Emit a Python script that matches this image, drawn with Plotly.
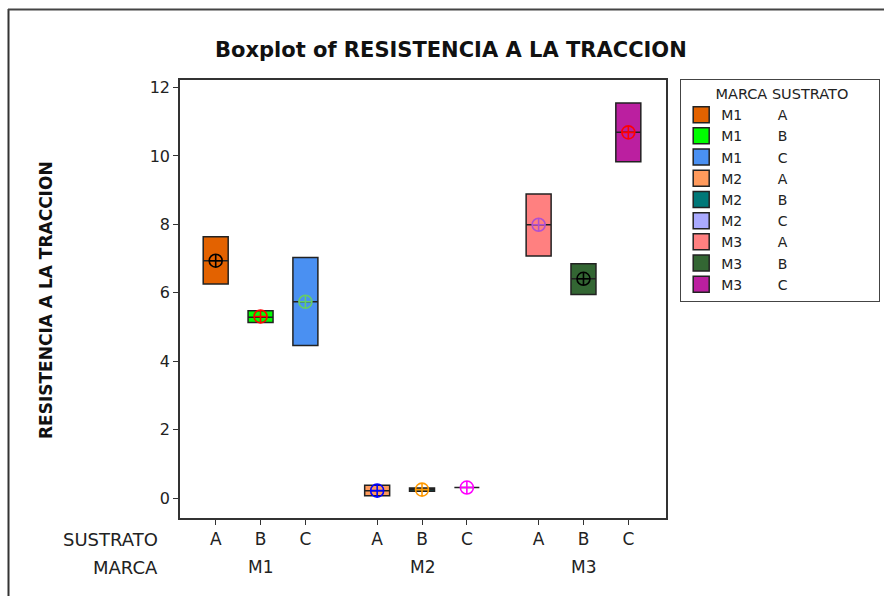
import plotly.graph_objects as go

# ---- data ----
marca = ["M1", "M1", "M1", "M2", "M2", "M2", "M3", "M3", "M3"]
sustrato = ["A", "B", "C", "A", "B", "C", "A", "B", "C"]
positions = [1, 2, 3, 4.6, 5.6, 6.6, 8.2, 9.2, 10.2]
q1 = [6.26, 5.13, 4.46, 0.07, 0.20, 0.31, 7.08, 5.95, 9.83]
median = [6.94, 5.29, 5.74, 0.22, 0.25, 0.31, 7.99, 6.41, 10.69]
q3 = [7.64, 5.48, 7.03, 0.38, 0.30, 0.31, 8.89, 6.85, 11.55]
means = [6.94, 5.31, 5.74, 0.22, 0.25, 0.31, 7.99, 6.41, 10.69]
y_ticks = [0, 2, 4, 6, 8, 10, 12]

box_colors = ["#E36200", "#00FF00", "#4A90F2", "#FF9A5C", "#007878",
              "#AAAAFF", "#FF8080", "#336633", "#BB1FA0"]
mean_colors = ["#000000", "#FF0000", "#66CC66", "#0000FF", "#FF9900",
               "#FF00FF", "#B050D0", "#000000", "#FF0000"]

FONT = "DejaVu Sans"
fig = go.Figure()

for i in range(len(marca)):
    fig.add_trace(go.Box(
        x=[positions[i]], q1=[q1[i]], median=[median[i]], q3=[q3[i]],
        lowerfence=[q1[i]], upperfence=[q3[i]],
        width=0.557, fillcolor=box_colors[i],
        line=dict(color="#222222", width=1.5),
        boxpoints=False, showlegend=False, hoverinfo="y",
        legendgroup=f"g{i}",
    ))

fig.add_trace(go.Scatter(
    x=positions, y=means, mode="markers", showlegend=False,
    marker=dict(symbol="circle-cross-open", size=13,
                color=mean_colors, line=dict(width=1.6, color=mean_colors)),
))

# legend entries
nb = "\u00a0"
for i in range(len(marca)):
    fig.add_trace(go.Scatter(
        x=[None], y=[None], mode="markers",
        name=f"{marca[i]}{nb*8}{sustrato[i]}",
        legendgroup=f"g{i}",
        marker=dict(symbol="square", size=16, color=box_colors[i],
                    line=dict(color="#222222", width=1.5)),
    ))

# geometry helpers (pixel -> paper)
W, H = 884, 596
L, R, T, B = 180, 218, 80, 78
pw, ph = W - L - R, H - T - B

def px_x(p):
    return (p - L) / pw

def px_y(p):
    return (H - B - p) / ph

groups = ["M1", "M2", "M3"]
for g in groups:
    xs = [positions[k] for k in range(len(marca)) if marca[k] == g]
    fig.add_annotation(x=sum(xs) / len(xs), xref="x", y=px_y(567), yref="paper",
                       text=g, showarrow=False, xanchor="center", yanchor="middle",
                       font=dict(family=FONT, size=17, color="#222222"))

fig.add_annotation(x=px_x(160), xref="paper", y=px_y(539), yref="paper",
                   text="SUSTRATO", showarrow=False, xanchor="right", yanchor="middle",
                   font=dict(family=FONT, size=18, color="#222222"))
fig.add_annotation(x=px_x(160), xref="paper", y=px_y(567), yref="paper",
                   text="MARCA", showarrow=False, xanchor="right", yanchor="middle",
                   font=dict(family=FONT, size=18, color="#222222"))

# title
fig.add_annotation(x=px_x(451), xref="paper", y=px_y(50), yref="paper",
                   text="<b>Boxplot of RESISTENCIA A LA TRACCION</b>", showarrow=False,
                   xanchor="center", yanchor="middle",
                   font=dict(family=FONT, size=21, color="#111111"))

# y-axis title
fig.add_annotation(x=px_x(46), xref="paper", y=px_y(300), yref="paper",
                   text="<b>RESISTENCIA A LA TRACCION</b>", showarrow=False,
                   textangle=-90, xanchor="center", yanchor="middle",
                   font=dict(family=FONT, size=17, color="#111111"))

# outer frame (left and top)
fig.add_shape(type="line", xref="paper", yref="paper",
              x0=px_x(8.5), x1=px_x(8.5), y0=px_y(9), y1=px_y(600),
              line=dict(color="#333333", width=2))
fig.add_shape(type="line", xref="paper", yref="paper",
              x0=px_x(8), x1=px_x(890), y0=px_y(9.5), y1=px_y(9.5),
              line=dict(color="#444444", width=2))

fig.update_layout(
    width=W, height=H,
    margin=dict(l=L, r=R, t=T, b=B, autoexpand=False),
    paper_bgcolor="white", plot_bgcolor="white",
    font=dict(family=FONT, size=16, color="#222222"),
    xaxis=dict(range=[0.204, 11.04], tickvals=positions, ticktext=sustrato,
               showgrid=False, zeroline=False, showline=True, mirror=True,
               linecolor="#333333", linewidth=1.5, ticks="outside", ticklen=5,
               tickcolor="#333333", tickfont=dict(family=FONT, size=17)),
    yaxis=dict(range=[-0.58, 12.22], tickvals=y_ticks,
               showgrid=False, zeroline=False, showline=True, mirror=True,
               linecolor="#333333", linewidth=1.5, ticks="outside", ticklen=5,
               tickcolor="#333333", tickfont=dict(family=FONT, size=16)),
    legend=dict(x=px_x(680), xanchor="left", y=px_y(79), yanchor="top",
                bordercolor="#444444", borderwidth=1.2, bgcolor="white",
                font=dict(family=FONT, size=14, color="#222222"),
                title=dict(text=f"{nb*7}MARCA SUSTRATO{nb*6}",
                           font=dict(family=FONT, size=14.5, color="#222222")),
                tracegroupgap=0, itemsizing="trace"),
)

fig.write_html("out.html", config={"displayModeBar": False},
               post_script="document.body.style.margin='0';")
